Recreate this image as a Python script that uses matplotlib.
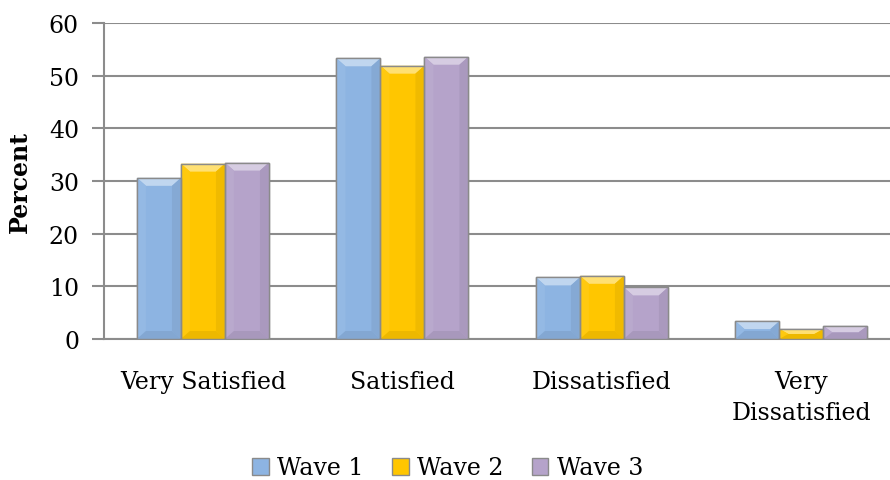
#!/usr/bin/env python3

import numpy as np
import matplotlib
matplotlib.use("Agg")
import matplotlib.pyplot as plt
from matplotlib.patches import Polygon, Rectangle
from matplotlib.colors import to_rgb

categories = ["Very Satisfied", "Satisfied", "Dissatisfied", "Very\nDissatisfied"]
waves = ["Wave 1", "Wave 2", "Wave 3"]
wave1 = [30.6, 53.3, 11.7, 3.4]
wave2 = [33.3, 51.9, 12.0, 1.9]
wave3 = [33.5, 53.6, 9.8, 2.5]
yticks = [0, 10, 20, 30, 40, 50, 60]

colors = ["#8DB4E2", "#FFC600", "#B5A3CA"]
edge = "#8A8A8A"
grid = "#8C8C8C"

plt.rcParams["font.family"] = ["DejaVu Serif"]
FS = 17


def shade(c, f):
	"""
	Lighten (f > 0) or darken (f < 0) a colour
	"""
	r = np.array(to_rgb(c))
	if f > 0:
		r = r + (1 - r) * f
	else:
		r = r * (1 + f)
	return tuple(np.clip(r, 0, 1))


def bevel_bar(ax, rect, color, bx, by):
	"""
	Draw soft bevel facets over one bar
	"""
	x0, y0 = rect.get_x(), rect.get_y()
	w, h = rect.get_width(), rect.get_height()
	x1, y1 = x0 + w, y0 + h
	by = min(by, h / 2)
	bx = min(bx, w / 2)
	facets = [
		([(x0, y1), (x1, y1), (x1 - bx, y1 - by), (x0 + bx, y1 - by)], 0.45),
		([(x0, y0), (x0, y1), (x0 + bx, y1 - by), (x0 + bx, y0 + by)], 0.06),
		([(x1, y0), (x1, y1), (x1 - bx, y1 - by), (x1 - bx, y0 + by)], -0.06),
		([(x0, y0), (x1, y0), (x1 - bx, y0 + by), (x0 + bx, y0 + by)], -0.07),
	]
	for pts, f in facets:
		ax.add_patch(Polygon(pts, closed=True, facecolor=shade(color, f),
							 edgecolor="none", zorder=3))
	ax.add_patch(Rectangle((x0, y0), w, h, facecolor="none",
						   edgecolor=edge, lw=1.0, zorder=4))


fig = plt.figure(figsize=(8.9, 4.81), dpi=100)
ax = fig.add_axes([104 / 890, 1 - 340 / 481, 1 - 104 / 890, (340 - 24) / 481])

x = np.arange(len(categories))
width = 0.2205
xmin, xmax = -0.496, 3.444
ax.set_xlim(xmin, xmax)
ax.set_ylim(0, 60)

# bevel size in data units from pixel size
px_x = (xmax - xmin) / (890 - 104)
px_y = 60 / (340 - 24)

for i, (vals, col, name) in enumerate(zip([wave1, wave2, wave3], colors, waves)):
	bars = ax.bar(x + (i - 1) * width, vals, width, color=col, edgecolor=edge,
				  lw=1.0, zorder=2, label=name)
	for rect in bars:
		bevel_bar(ax, rect, col, 9 * px_x, 8 * px_y)

ax.set_yticks(yticks)
ax.set_xticks(x)
ax.set_xticklabels(categories, fontsize=FS, linespacing=1.45)
ax.tick_params(axis="y", labelsize=FS, length=9, width=1.5, color=grid, pad=9)
ax.tick_params(axis="x", length=0, pad=22)
ax.yaxis.grid(True, color=grid, lw=1.5, zorder=0)
ax.set_axisbelow(True)
for s in ["top", "right"]:
	ax.spines[s].set_visible(False)
for s in ["left", "bottom"]:
	ax.spines[s].set_color(grid)
	ax.spines[s].set_linewidth(1.5)

ax.set_ylabel("Percent", fontsize=FS, fontweight="bold")
ax.yaxis.set_label_coords(-0.092, 0.5)

handles, labels = ax.get_legend_handles_labels()
fig.legend(handles, labels, loc="center", bbox_to_anchor=(0.503, 1 - 469 / 481),
		   ncol=3, frameon=False, fontsize=FS, handlelength=0.7,
		   handleheight=0.7, handletextpad=0.35, columnspacing=1.2)

fig.savefig("out.png", dpi=100)
